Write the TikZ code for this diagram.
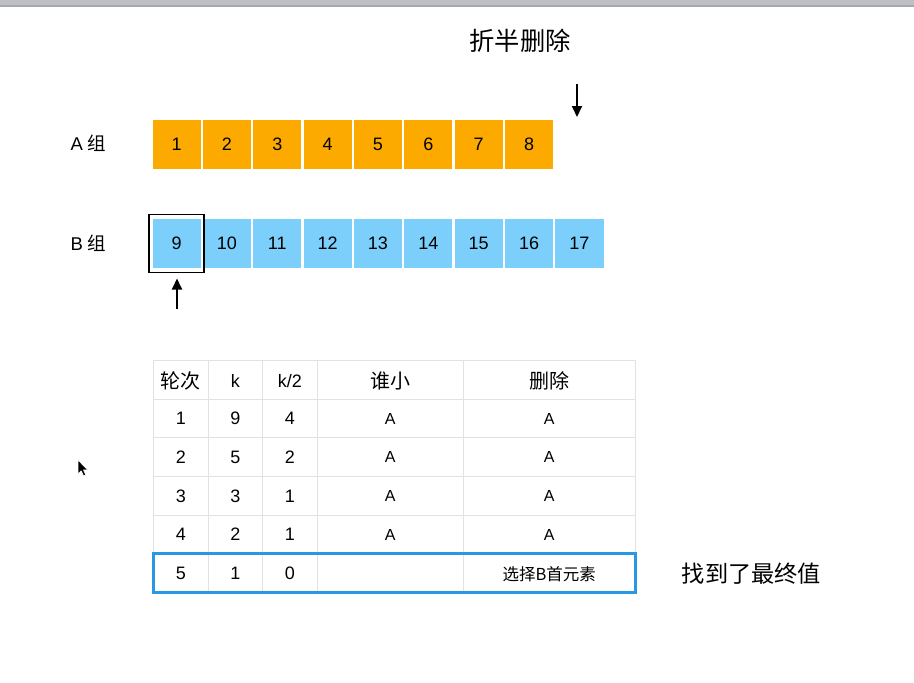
\documentclass[tikz,border=0pt]{standalone}
\usepackage{fontspec}
\setmainfont{Liberation Sans}
\newfontfamily\cjk{Noto Sans CJK SC}
\usetikzlibrary{arrows.meta}
\definecolor{aorange}{RGB}{252,170,0}
\definecolor{bblue}{RGB}{124,207,250}
\definecolor{gridgray}{RGB}{226,226,226}
\definecolor{selblue}{RGB}{40,152,226}
\definecolor{barfill}{RGB}{190,191,197}
\definecolor{barline}{RGB}{168,169,175}
\tikzset{
  cellbox/.style={minimum width=48.2pt,minimum height=49pt,inner sep=0pt,anchor=north west,font=\fontsize{18}{20}\selectfont},
  acell/.style={cellbox,fill=aorange},
  bcell/.style={cellbox,fill=bblue},
  ptr/.style={line width=2pt,-{Triangle[width=10pt,length=11pt]}},
  tabtxt/.style={inner sep=0pt,font=\fontsize{18}{20}\selectfont},
  tabcjk/.style={inner sep=0pt,font=\cjk\fontsize{20}{22}\selectfont},
  tabsmall/.style={inner sep=0pt,font=\fontsize{16}{18}\selectfont},
  grplabel/.style={inner sep=0pt,font=\fontsize{18.5}{20}\selectfont},
}
\begin{document}
\begin{tikzpicture}[x=1pt,y=-1pt]
\useasboundingbox (0,0) rectangle (914,683);
\fill[white] (0,0) rectangle (914,683);
% top bar
\fill[barfill] (0,0) rectangle (914,5);
\fill[barline] (0,5) rectangle (914,6.5);
% title
\node[inner sep=0pt,font=\cjk\fontsize{25.3}{28}\selectfont] (title) at (520,41) {折半删除};
% group labels
\node[grplabel] (la) at (88.5,143) {A {\cjk 组}};
\node[grplabel] (lb) at (88.5,243) {B {\cjk 组}};
% A boxes
\foreach \i in {1,...,8} {
  \node[acell] (a\i) at ({152.3+50.35*(\i-1)},120) {\i};
}
% B boxes
\foreach \i [count=\j from 0] in {9,...,17} {
  \node[bcell] (b\i) at ({152.3+50.35*\j},218.5) {\i};
}
% outline around 9
\node[draw=black,line width=1.4pt,minimum width=55pt,minimum height=58pt,inner sep=0pt] (sel) at (b9.center) {};
% arrows
\coordinate (dtop) at (577,84);
\coordinate (dbot) at (577,117);
\draw[ptr] (dtop) -- (dbot);
\coordinate (ubot) at (177,309);
\coordinate (utop) at (177,278.5);
\draw[ptr] (ubot) -- (utop);
% table grid
\foreach \y in {360.5,399,437.7,476.3,515,553.6,592.2}
  \draw[gridgray,line width=1pt] (153.3,\y) -- (635.5,\y);
\foreach \x in {153.3,208.3,262.3,317.3,463,635.5}
  \draw[gridgray,line width=1pt] (\x,360.5) -- (\x,592.2);
% header
\node[tabcjk] (h1) at (180.8,381) {轮次};
\node[tabtxt] (h2) at (235.3,381) {k};
\node[tabtxt] (h3) at (289.8,381) {k/2};
\node[tabcjk] (h4) at (390.2,381) {谁小};
\node[tabcjk] (h5) at (549.3,381) {删除};
% rows
\foreach \r/\k/\h [count=\n] in {1/9/4,2/5/2,3/3/1,4/2/1} {
  \pgfmathsetmacro{\yy}{399+38.65*(\n-1)+19.6}
  \node[tabtxt] (r\n c1) at (180.8,\yy) {\r};
  \node[tabtxt] (r\n c2) at (235.3,\yy) {\k};
  \node[tabtxt] (r\n c3) at (289.8,\yy) {\h};
  \node[tabsmall] (r\n c4) at (390.2,\yy) {A};
  \node[tabsmall] (r\n c5) at (549.3,\yy) {A};
}
\node[tabtxt] (r5c1) at (180.8,573.4) {5};
\node[tabtxt] (r5c2) at (235.3,573.4) {1};
\node[tabtxt] (r5c3) at (289.8,573.4) {0};
\node[inner sep=0pt,font=\cjk\fontsize{16.5}{18}\selectfont] (r5c5) at (549.3,574) {选择B首元素};
% highlighted row
\draw[selblue,line width=2.6pt] (153.3,553.6) rectangle (635.5,592.2);
\node[inner sep=0pt,font=\cjk\fontsize{23.2}{26}\selectfont] (found) at (751.5,574) {找到了最终值};
% cursor
\filldraw[fill=black,draw=white,line width=0.6pt,line join=round]
  (78,460) -- (78,474) -- (81.3,470.8) -- (83.6,476) -- (85.8,475) -- (83.5,470) -- (87.6,469.8) -- cycle;
\end{tikzpicture}
\end{document}
